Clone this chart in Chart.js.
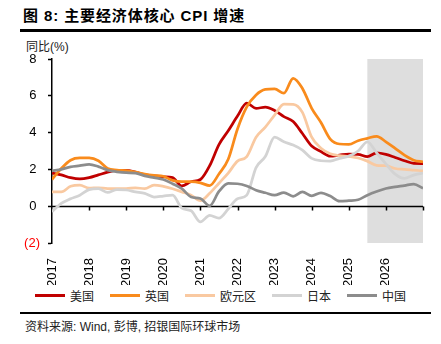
<!DOCTYPE html>
<html>
<head>
<meta charset="utf-8">
<script src="https://cdn.jsdelivr.net/npm/chart.js@4.4.1/dist/chart.umd.min.js"></script>
<style>
  body { margin: 0; background: #fff; font-family: "Liberation Sans", "Noto Sans CJK SC", sans-serif; }
  .page { position: relative; width: 441px; height: 344px; overflow: hidden; }
  .title { position: absolute; left: 23px; top: 4px; font-size: 15px; font-weight: bold; letter-spacing: 0.9px; color: #000; }
  .rule { position: absolute; left: 20px; width: 411px; background: #000; }
  .unit { position: absolute; left: 26px; top: 37px; font-size: 12px; color: #222; }
  .chart-box { position: absolute; left: 0; top: 50px; width: 441px; height: 235px; }
  .legend { position: absolute; left: 0; top: 287px; width: 441px; display: flex; justify-content: center; gap: 16px; font-size: 12px; color: #222; }
  .legend-item { display: flex; align-items: center; gap: 5px; }
  .legend-line { width: 30px; height: 3px; }
  .source { position: absolute; left: 25px; top: 317px; font-size: 12px; color: #222; }
</style>
</head>
<body>
<div class="page">
  <div class="title">图 8: 主要经济体核心 CPI 增速</div>
  <div class="rule" style="top: 29px; height: 2.5px;"></div>
  <div class="unit">同比(%)</div>
  <div class="chart-box"><canvas id="cpiChart"></canvas></div>
  <div class="legend" id="legend"></div>
  <div class="rule" style="top: 312px; height: 2px;"></div>
  <div class="source">资料来源: Wind, 彭博, 招银国际环球市场</div>
</div>
<script>
// quarterly points, 2017Q1 .. 2027Q1
const firstYear = 2017;
const lastYear = 2027;
const forecastFrom = 2025.5;

const seriesNames = ['美国', '英国', '欧元区', '日本', '中国'];
const seriesColors = ['#C00000', '#F98B1C', '#F9C9A1', '#D3D3D3', '#8C8C8C'];

const usCore = [1.80, 1.70, 1.55, 1.48, 1.55, 1.70, 1.85, 1.95, 1.95, 1.85,
  1.70, 1.65, 1.60, 1.55, 1.10, 1.33, 1.45, 2.20, 3.35, 4.10,
  4.90, 5.60, 5.32, 5.38, 5.20, 4.87, 4.60, 3.95, 3.27, 2.97,
  2.72, 2.78, 2.83, 2.82, 2.69, 2.90, 2.82, 2.65, 2.47, 2.33, 2.32];
const ukCore = [1.45, 2.05, 2.50, 2.62, 2.62, 2.47, 2.05, 1.96, 1.93, 1.85,
  1.75, 1.68, 1.63, 1.40, 1.33, 1.33, 1.27, 1.12, 1.75, 2.55,
  4.20, 5.40, 6.05, 6.35, 6.38, 6.14, 6.95, 6.40, 5.32, 4.55,
  3.65, 3.38, 3.36, 3.56, 3.69, 3.80, 3.50, 3.14, 2.78, 2.50, 2.41];
const euroCore = [0.78, 0.78, 1.08, 1.15, 0.98, 1.00, 0.96, 0.96, 0.96, 1.00,
  0.95, 1.15, 1.08, 0.95, 0.78, 0.60, 0.30, 0.70, 1.25, 1.80,
  2.45, 2.70, 3.75, 4.30, 4.95, 5.55, 5.54, 5.10, 3.75, 3.15,
  2.85, 2.75, 2.70, 2.62, 2.45, 2.22, 2.20, 2.05, 2.00, 1.96, 1.92];
const japanCore = [-0.30, 0.15, 0.40, 0.60, 0.90, 0.95, 0.75, 0.90, 0.88, 0.78,
  0.70, 0.50, 0.55, 0.60, -0.10, -0.25, -0.85, -0.50, -0.65, -0.15,
  0.40, 0.60, 2.10, 2.70, 3.75, 3.50, 3.32, 3.05, 2.60, 2.47,
  2.45, 2.60, 2.72, 3.00, 3.50, 2.90, 2.30, 1.74, 1.51, 1.69, 1.80];
const chinaCore = [1.92, 2.00, 2.14, 2.20, 2.27, 2.15, 1.96, 1.87, 1.82, 1.80,
  1.65, 1.55, 1.45, 1.22, 0.95, 0.50, 0.42, 0.02, 0.80, 1.24,
  1.22, 1.10, 0.87, 0.73, 0.60, 0.74, 0.54, 0.78, 0.56, 0.73,
  0.55, 0.27, 0.30, 0.35, 0.60, 0.80, 0.96, 1.05, 1.12, 1.20, 0.97];

const yTicks = [-2, 0, 2, 4, 6, 8];

const allSeries = [usCore, ukCore, euroCore, japanCore, chinaCore];

const toPoints = values => values.map((v, i) => ({ x: firstYear + i / 4, y: v }));

// grey box over the forecast period, plus the zero line with year ticks
const backdrop = {
  id: 'backdrop',
  beforeDatasetsDraw(chart) {
    const { ctx, chartArea, scales: { x, y } } = chart;
    const left = x.getPixelForValue(forecastFrom);
    const right = x.getPixelForValue(lastYear);
    ctx.save();
    ctx.fillStyle = '#DEDEDE';
    ctx.fillRect(left, chartArea.top, right - left, chartArea.bottom - chartArea.top);

    const y0 = Math.round(y.getPixelForValue(0)) + 0.5;
    ctx.strokeStyle = '#000';
    ctx.lineWidth = 1.5;
    ctx.beginPath();
    ctx.moveTo(chartArea.left, y0);
    ctx.lineTo(chartArea.right, y0);
    for (let yr = firstYear + 1; yr <= lastYear; yr++) {
      const px = Math.round(x.getPixelForValue(yr)) + 0.5;
      ctx.moveTo(px, y0);
      ctx.lineTo(px, y0 + 4);
    }
    ctx.stroke();
    ctx.restore();
  }
};

const tickFont = { family: '"Liberation Sans", Arial, sans-serif', size: 13 };

// drop the label overhang Chart.js reserves, so layout.padding alone sets the plot box
const noOverhang = scale => {
  scale.paddingTop = 0;
  scale.paddingBottom = 0;
  scale.paddingLeft = 0;
  scale.paddingRight = 0;
};

const chart = new Chart(document.getElementById('cpiChart'), {
  type: 'line',
  data: {
    datasets: allSeries.map((values, i) => ({
      label: seriesNames[i],
      data: toPoints(values),
      borderColor: seriesColors[i],
      backgroundColor: seriesColors[i],
      borderWidth: 2.75,
      pointRadius: 0,
      cubicInterpolationMode: 'monotone',
      order: allSeries.length - i
    }))
  },
  options: {
    responsive: true,
    maintainAspectRatio: false,
    animation: false,
    layout: { padding: { top: 9, right: 18, left: 0, bottom: 0 } },
    plugins: { legend: { display: false }, tooltip: { enabled: false } },
    scales: {
      x: {
        type: 'linear',
        min: firstYear,
        max: lastYear,
        grid: { display: false },
        border: { display: false },
        ticks: {
          stepSize: 1,
          autoSkip: false,
          minRotation: 90,
          maxRotation: 90,
          padding: 7,
          color: '#000',
          font: tickFont,
          callback: v => (v < lastYear ? String(v) : '')
        },
        afterFit: scale => {
          scale.height = 42;
          noOverhang(scale);
        }
      },
      y: {
        min: yTicks[0],
        max: yTicks[yTicks.length - 1],
        afterBuildTicks: scale => { scale.ticks = yTicks.map(v => ({ value: v })); },
        grid: { drawOnChartArea: false, drawTicks: true, tickLength: 4, tickColor: '#000', tickWidth: 1.5 },
        border: { color: '#000', width: 1.5 },
        ticks: {
          padding: 8,
          font: tickFont,
          color: ctx => (ctx.tick.value < 0 ? '#FF0000' : '#000'),
          callback: v => (v < 0 ? '(' + Math.abs(v) + ')' : v + ' ')
        },
        afterFit: scale => {
          scale.width = 52;
          noOverhang(scale);
        }
      }
    }
  },
  plugins: [backdrop]
});

const legendEl = document.getElementById('legend');
chart.data.datasets.forEach(ds => {
  const item = document.createElement('div');
  item.className = 'legend-item';
  item.innerHTML = '<span class="legend-line" style="background:' + ds.borderColor + '"></span><span>' + ds.label + '</span>';
  legendEl.appendChild(item);
});
</script>
</body>
</html>
